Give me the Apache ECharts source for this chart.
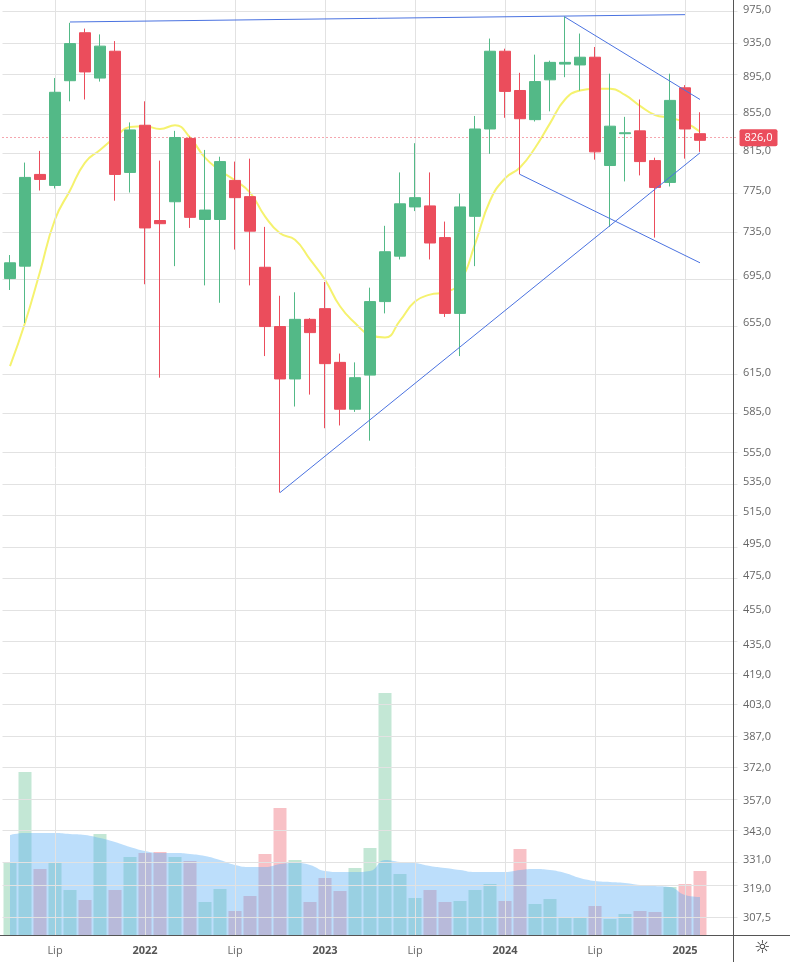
<!DOCTYPE html>
<html><head><meta charset="utf-8">
<script src="https://cdn.jsdelivr.net/npm/echarts@6/dist/echarts.min.js"></script>
<style>html,body{margin:0;padding:0;background:#fff}#c{width:790px;height:962px}</style>
</head><body><div id="c"></div>
<script>
const months = [];
for (let y = 2021, m = 4; !(y === 2025 && m === 5); ) {
  months.push(y + '-' + String(m).padStart(2, '0'));
  m++; if (m > 12) { m = 1; y++; }
}
const openV  = [693,704,791,780,891,947,894,925,793,842,746,764,828,747,747,785,769,703,652,610,658,667,623,587,613,673,713,759,760,730,663,750,838,925,880,848,892,910,909,918,800,833,836,805,783,883,833];
const closeV = [707,788,786,878,934,901,931,791,837,739,743,829,749,756,804,768,736,652,610,658,647,622,587,611,673,717,762,768,725,663,759,838,925,879,849,890,912,912,918,814,841,834,804,778,869,838,826];
const lowV   = [683,655,775,777,868,870,890,765,773,688,611,704,739,687,672,719,687,628,528,589,598,573,575,585,564,663,710,755,710,660,628,704,812,850,791,846,857,895,880,806,740,784,790,730,779,807,814];
const highV  = [714,803,815,894,959,952,945,937,845,868,805,836,830,816,809,804,807,740,678,681,659,690,630,623,685,741,793,823,793,745,772,852,940,928,900,921,914,967,946,930,899,851,870,808,899,886,856];
const maV    = [620,655,699,747,775,803,816,829,840,841,838,842,829,808,795,785,773,750,734,728,710,692,669,655,645,643,657,673,679,681,690,724,765,787,798,818,844,870,880,882,882,875,863,853,850,845,835];
const volume = [72,163,66,72,45,35,101,45,78,82,83,78,74,33,46,24,39,81,127,75,33,57,44,67,87,242,61,37,45,33,34,45,51,34,86,31,36,18,18,29,16,21,24,23,48,51,64];
const volMA  = [100,102,102,102,101,100,97,93,88,84,82,82,81,79,75,70,68,68,71,72,70,64,63,63,64,75,73,72,69,67,65,63,63,63,65,66,65,62,57,54,53,52,50,49,48,40,38];
const yTicks = [975,935,895,855,815,775,735,695,655,615,585,555,535,515,495,475,455,435,419,403,387,372,357,343,331,319,307.5];
const trendLines = [
  [['2021-08',960],['2025-01',969]],
  [['2022-10',528],['2025-02',813]],
  [['2024-05',966],['2025-02',870]],
  [['2024-02',791],['2025-02',707]]
];
const lastPrice = 826;

const L = Math.log;
const GREEN = '#53b987', RED = '#eb4d5c';
const candleData = openV.map((o,i)=>[L(o),L(closeV[i]),L(lowV[i]),L(highV[i])]);
const volData = volume.map((v,i)=>({value:v,itemStyle:{color: closeV[i]>=openV[i] ? 'rgba(83,185,135,0.35)' : 'rgba(235,77,92,0.35)'}}));
const gridMarks = yTicks.map(t=>({yAxis:L(t)}));
const vMarks = months.filter(m=>/-(01|07)$/.test(m)).map(m=>({xAxis:m}));

const chart = echarts.init(document.getElementById('c'));
chart.setOption({
  animation:false,
  grid:{left:2.5, top:0, width:735, height:935},
  xAxis:{type:'category', data:months, boundaryGap:true,
    axisLine:{show:false}, axisTick:{show:false}, splitLine:{show:false},
    axisLabel:{interval:(i,v)=>/-(01|07)$/.test(v), margin:10, color:'#666', fontSize:11, fontFamily:'Open Sans',
      formatter:v=>v.endsWith('-07')?'Lip':'{b|'+v.slice(0,4)+'}',
      rich:{b:{fontWeight:'bold',color:'#555',fontSize:11,fontFamily:'Open Sans'}}}},
  yAxis:[{type:'value', position:'right', offset:-4.5, min:L(301.0), max:L(987.2), scale:true,
    axisLine:{show:false}, axisTick:{show:false}, splitLine:{show:false},
    axisLabel:{customValues:yTicks.map(t=>L(t)), margin:10, color:'#666', fontSize:11, fontFamily:'Open Sans',
      formatter:v=>{const t=yTicks.find(t=>Math.abs(L(t)-v)<1e-6); return t===undefined?'':t.toFixed(1).replace('.',',');}}},
    {type:'value', show:false, min:0, max:935}],
  series:[
    {type:'line', data:[], markLine:{silent:true, symbol:'none', label:{show:false}, lineStyle:{color:'#e2e2e2',type:'solid',width:1}, data:gridMarks.concat(vMarks)}},
    {type:'bar', yAxisIndex:1, data:volData, barWidth:13, z:1},
    {type:'line', yAxisIndex:1, data:volMA, smooth:true, symbol:'none', lineStyle:{width:0}, areaStyle:{color:'rgba(90,175,245,0.58)'}, z:2},
    {type:'candlestick', data:candleData, barWidth:11, z:5,
      itemStyle:{color:GREEN, color0:RED, borderColor:GREEN, borderColor0:RED, borderWidth:1},
      markLine:{silent:true, symbol:'none', data:[{yAxis:L(lastPrice)}], lineStyle:{color:RED,type:[1,3],width:1,opacity:1},
        label:{show:true, position:'end', distance:2, formatter:'826,0', color:'#fff', backgroundColor:RED, padding:[3,5], borderRadius:2, fontSize:11, fontFamily:'Open Sans'}}},
    {type:'line', data:maV.map(v=>L(v)), symbol:'none', smooth:true, lineStyle:{color:'#f5f26e', width:2}, z:4},
  ].concat(trendLines.map(tl=>({type:'line', data:tl.map(p=>[p[0],L(p[1])]), symbol:'none', lineStyle:{color:'#4a72e0', width:1}, z:6}))),
  graphic:[
    {type:'line', shape:{x1:733.5,y1:0,x2:733.5,y2:962}, style:{stroke:'#555',lineWidth:1}, z:10},
    {type:'line', shape:{x1:0,y1:935.5,x2:790,y2:935.5}, style:{stroke:'#555',lineWidth:1}, z:10},
    {type:'text', left:754, top:939, style:{text:'☼', fontSize:18, fill:'#333', fontFamily:'DejaVu Sans'}, z:10}
  ]
});
</script></body></html>
